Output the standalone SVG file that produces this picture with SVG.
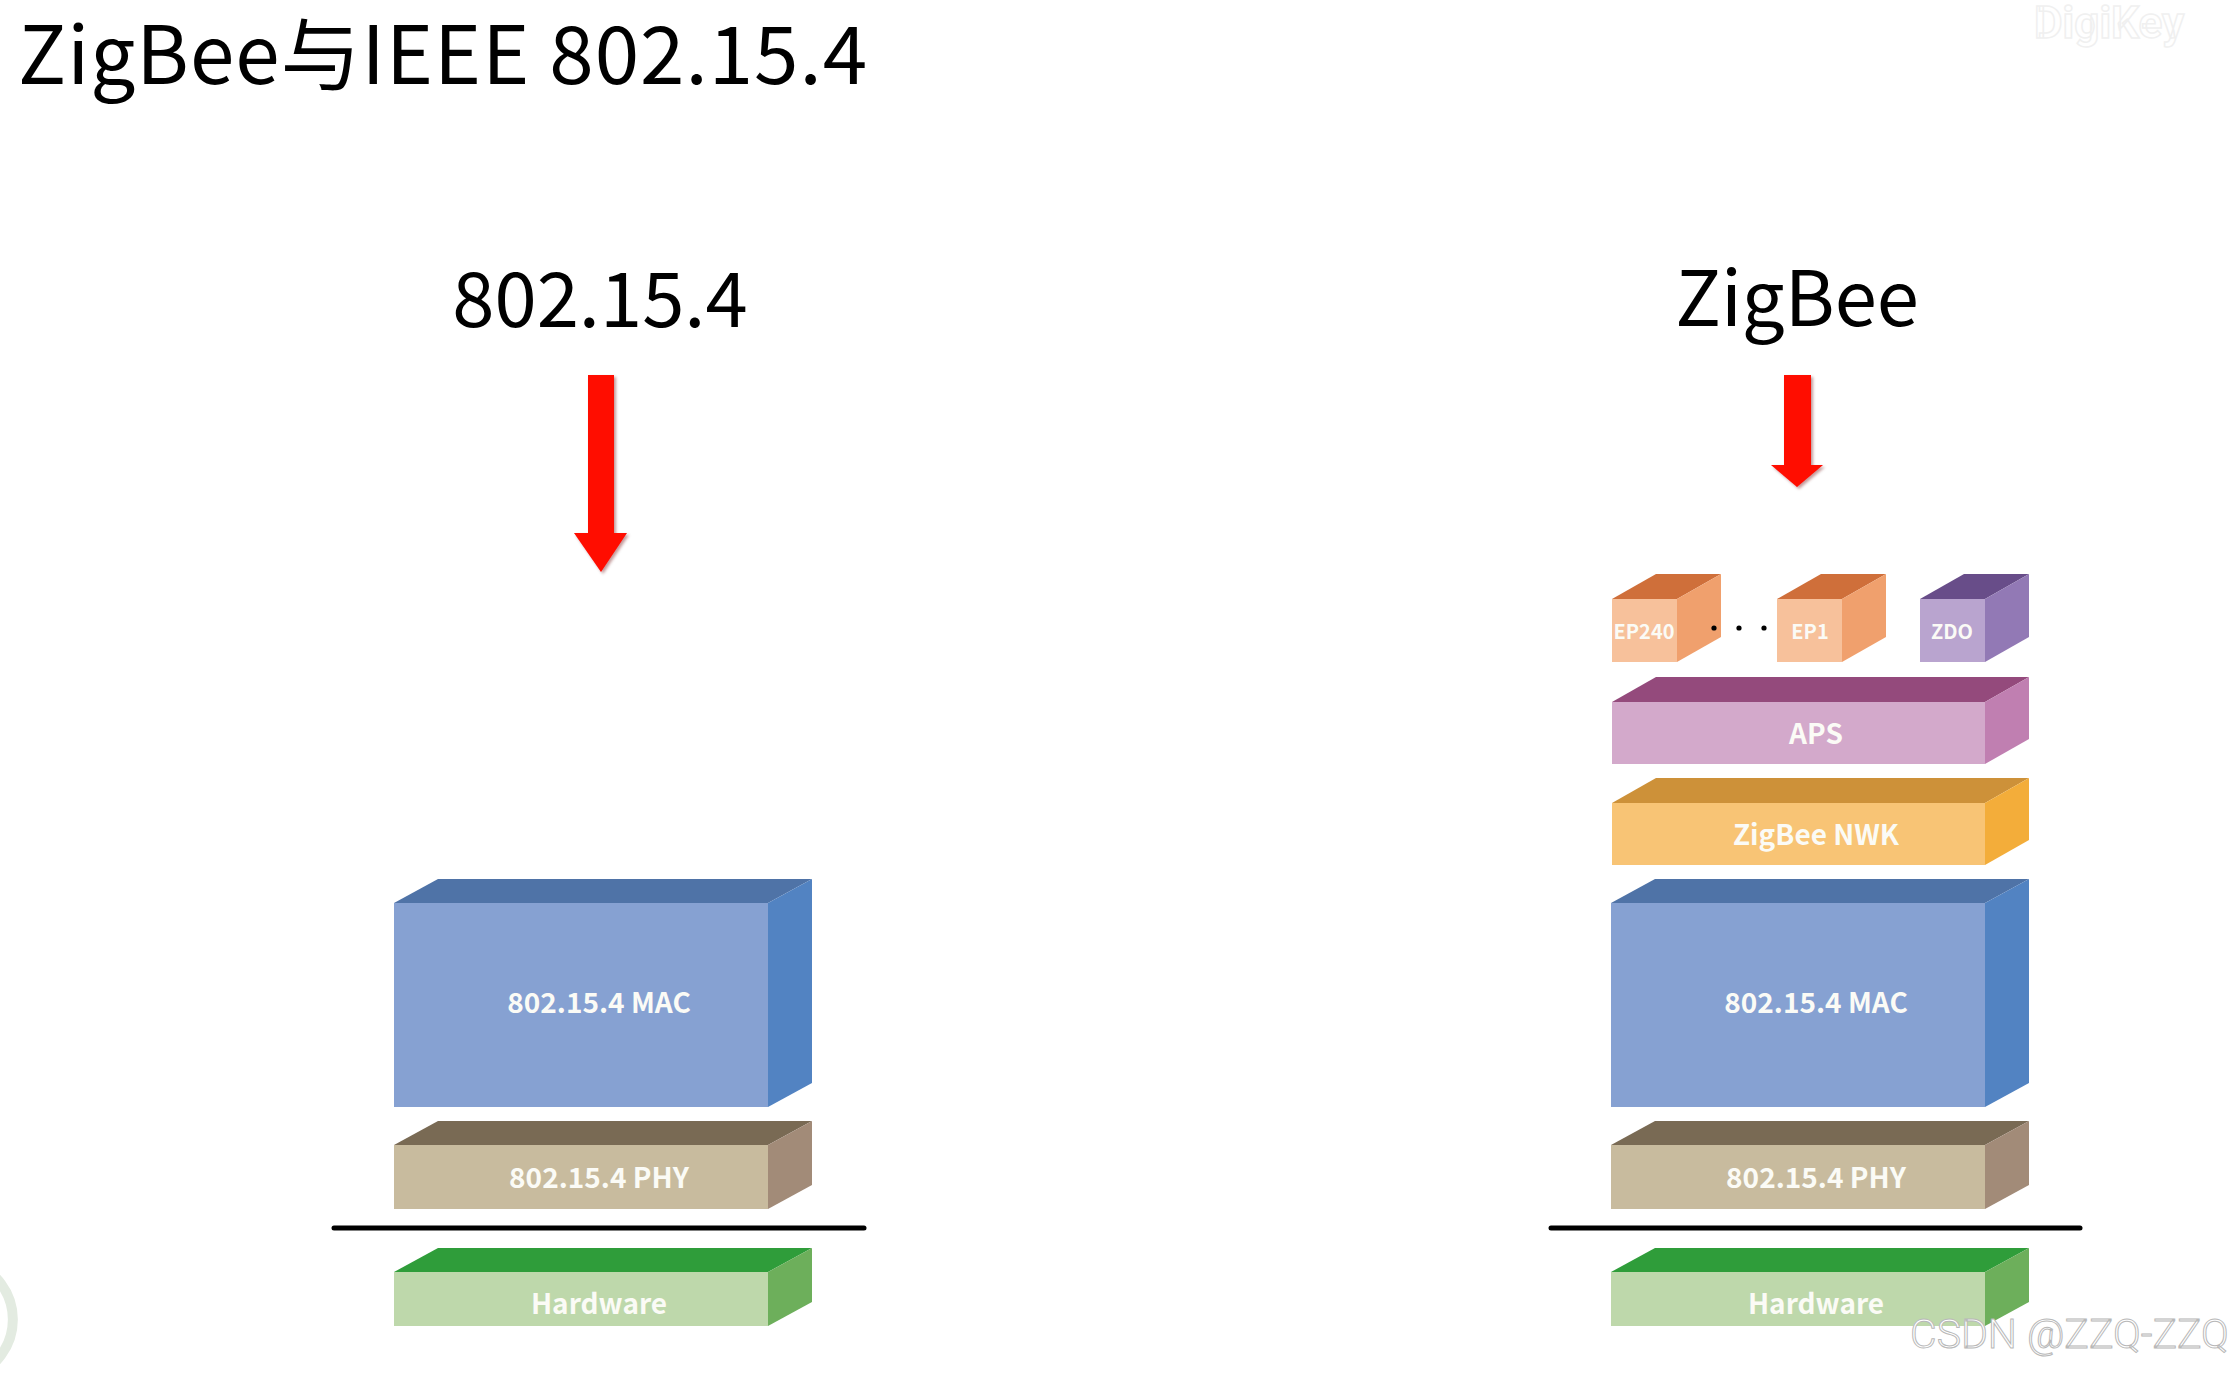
<svg xmlns="http://www.w3.org/2000/svg" width="2238" height="1377" viewBox="0 0 2238 1377">
<defs>
<style>
.title{font-family:"Noto Sans CJK SC","Noto Sans",sans-serif;font-size:80px;letter-spacing:1px;fill:#000}
.head{font-family:"Noto Sans CJK SC","Noto Sans",sans-serif;font-size:76px;fill:#000;text-anchor:middle}
.lbl{font-family:"Noto Sans CJK SC","Noto Sans",sans-serif;font-weight:bold;font-size:28px;fill:#fbfbf6;text-anchor:middle}
.sm{font-family:"Noto Sans CJK SC","Noto Sans",sans-serif;font-weight:bold;font-size:20px;fill:#fbfbf6;text-anchor:middle}
.sep{stroke:#000;stroke-width:5;stroke-linecap:round}
.arrow{fill:#ff0a00}
.mac-f{fill:#86a1d2}.mac-t{fill:#4f73a7}.mac-s{fill:#5283c2}
.phy-f{fill:#c8bb9e}.phy-t{fill:#796a54}.phy-s{fill:#a28b78}
.hw-f{fill:#bed8ab}.hw-t{fill:#2f9d3a}.hw-s{fill:#6daf5b}
.aps-f{fill:#d3a9cb}.aps-t{fill:#944a7c}.aps-s{fill:#c07fb1}
.nwk-f{fill:#f8c475}.nwk-t{fill:#cd9139}.nwk-s{fill:#f3ad3a}
.ep-f{fill:#f7c19b}.ep-t{fill:#cf6f3a}.ep-s{fill:#f0a06d}
.zdo-f{fill:#b9a4cf}.zdo-t{fill:#684d89}.zdo-s{fill:#9279b5}
.wm{font-family:Roboto,"Liberation Sans",sans-serif;font-weight:300;font-size:41px;fill:#ffffff;stroke:#b8b8b8;stroke-width:1}
</style>
<filter id="sh" x="-20%" y="-10%" width="150%" height="130%">
<feDropShadow dx="2" dy="2" stdDeviation="1.5" flood-color="#600" flood-opacity="0.4"/>
</filter>
</defs>
<rect width="2238" height="1377" fill="#ffffff"/>

<text class="title" x="18" y="84">ZigBee与IEEE 802.15.4</text>
<text x="2034" y="38" font-family="Roboto,'Liberation Sans',sans-serif" font-weight="bold" font-size="44" fill="none" stroke="#f0f0f0" stroke-width="1.5">DigiKey</text>
<path d="M 0 1262 A 60 60 0 0 1 0 1377" fill="none" stroke="#e3ebe1" stroke-width="10" transform="translate(-30,0)"/>

<g id="head-left"><text class="head" x="600" y="327">802.15.4</text></g>
<g id="head-right"><text class="head" x="1797" y="326">ZigBee</text></g>

<g id="connectors">
<polygon class="arrow" filter="url(#sh)" points="588,375 614,375 614,533 627,533 601,572 574,533 588,533"/>
<polygon class="arrow" filter="url(#sh)" points="1784,375 1811,375 1811,465 1823,465 1797,487 1771,465 1784,465"/>
<line class="sep" x1="334" y1="1228" x2="864" y2="1228"/>
<line class="sep" x1="1551" y1="1228" x2="2080" y2="1228"/>
</g>

<!-- Left stack -->
<g id="left-mac">
<rect class="mac-f" x="394" y="903" width="374" height="204"/>
<polygon class="mac-t" points="394,903 438,879 812,879 768,903"/>
<polygon class="mac-s" points="768,903 812,879 812,1083 768,1107"/>
<text class="lbl" x="599" y="1013">802.15.4 MAC</text>
</g>
<g id="left-phy">
<rect class="phy-f" x="394" y="1145" width="374" height="64"/>
<polygon class="phy-t" points="394,1145 438,1121 812,1121 768,1145"/>
<polygon class="phy-s" points="768,1145 812,1121 812,1185 768,1209"/>
<text class="lbl" x="599" y="1188">802.15.4 PHY</text>
</g>
<g id="left-hw">
<rect class="hw-f" x="394" y="1272" width="374" height="54"/>
<polygon class="hw-t" points="394,1272 438,1248 812,1248 768,1272"/>
<polygon class="hw-s" points="768,1272 812,1248 812,1302 768,1326"/>
<text class="lbl" x="599" y="1314">Hardware</text>
</g>

<!-- Right stack -->
<g id="ep240">
<rect class="ep-f" x="1612" y="599" width="65" height="63"/>
<polygon class="ep-t" points="1612,599 1656,574 1721,574 1677,599"/>
<polygon class="ep-s" points="1677,599 1721,574 1721,637 1677,662"/>
<text class="sm" x="1644" y="639">EP240</text>
</g>
<g id="dots">
<circle cx="1714" cy="628" r="2.6" fill="#000"/>
<circle cx="1739" cy="628" r="2.6" fill="#000"/>
<circle cx="1764" cy="628" r="2.6" fill="#000"/>
</g>
<g id="ep1">
<rect class="ep-f" x="1777" y="599" width="65" height="63"/>
<polygon class="ep-t" points="1777,599 1821,574 1886,574 1842,599"/>
<polygon class="ep-s" points="1842,599 1886,574 1886,637 1842,662"/>
<text class="sm" x="1810" y="639">EP1</text>
</g>
<g id="zdo">
<rect class="zdo-f" x="1920" y="599" width="65" height="63"/>
<polygon class="zdo-t" points="1920,599 1964,574 2029,574 1985,599"/>
<polygon class="zdo-s" points="1985,599 2029,574 2029,637 1985,662"/>
<text class="sm" x="1952" y="639">ZDO</text>
</g>
<g id="aps">
<rect class="aps-f" x="1612" y="702" width="373" height="62"/>
<polygon class="aps-t" points="1612,702 1656,677 2029,677 1985,702"/>
<polygon class="aps-s" points="1985,702 2029,677 2029,739 1985,764"/>
<text class="lbl" x="1816" y="744">APS</text>
</g>
<g id="nwk">
<rect class="nwk-f" x="1612" y="803" width="373" height="62"/>
<polygon class="nwk-t" points="1612,803 1656,778 2029,778 1985,803"/>
<polygon class="nwk-s" points="1985,803 2029,778 2029,840 1985,865"/>
<text class="lbl" x="1816" y="845">ZigBee NWK</text>
</g>
<g id="right-mac">
<rect class="mac-f" x="1611" y="903" width="374" height="204"/>
<polygon class="mac-t" points="1611,903 1655,879 2029,879 1985,903"/>
<polygon class="mac-s" points="1985,903 2029,879 2029,1083 1985,1107"/>
<text class="lbl" x="1816" y="1013">802.15.4 MAC</text>
</g>
<g id="right-phy">
<rect class="phy-f" x="1611" y="1145" width="374" height="64"/>
<polygon class="phy-t" points="1611,1145 1655,1121 2029,1121 1985,1145"/>
<polygon class="phy-s" points="1985,1145 2029,1121 2029,1185 1985,1209"/>
<text class="lbl" x="1816" y="1188">802.15.4 PHY</text>
</g>
<g id="right-hw">
<rect class="hw-f" x="1611" y="1272" width="374" height="54"/>
<polygon class="hw-t" points="1611,1272 1655,1248 2029,1248 1985,1272"/>
<polygon class="hw-s" points="1985,1272 2029,1248 2029,1302 1985,1326"/>
<text class="lbl" x="1816" y="1314">Hardware</text>
</g>

<text class="wm" x="1910" y="1348">CSDN @ZZQ-ZZQ</text>
</svg>
